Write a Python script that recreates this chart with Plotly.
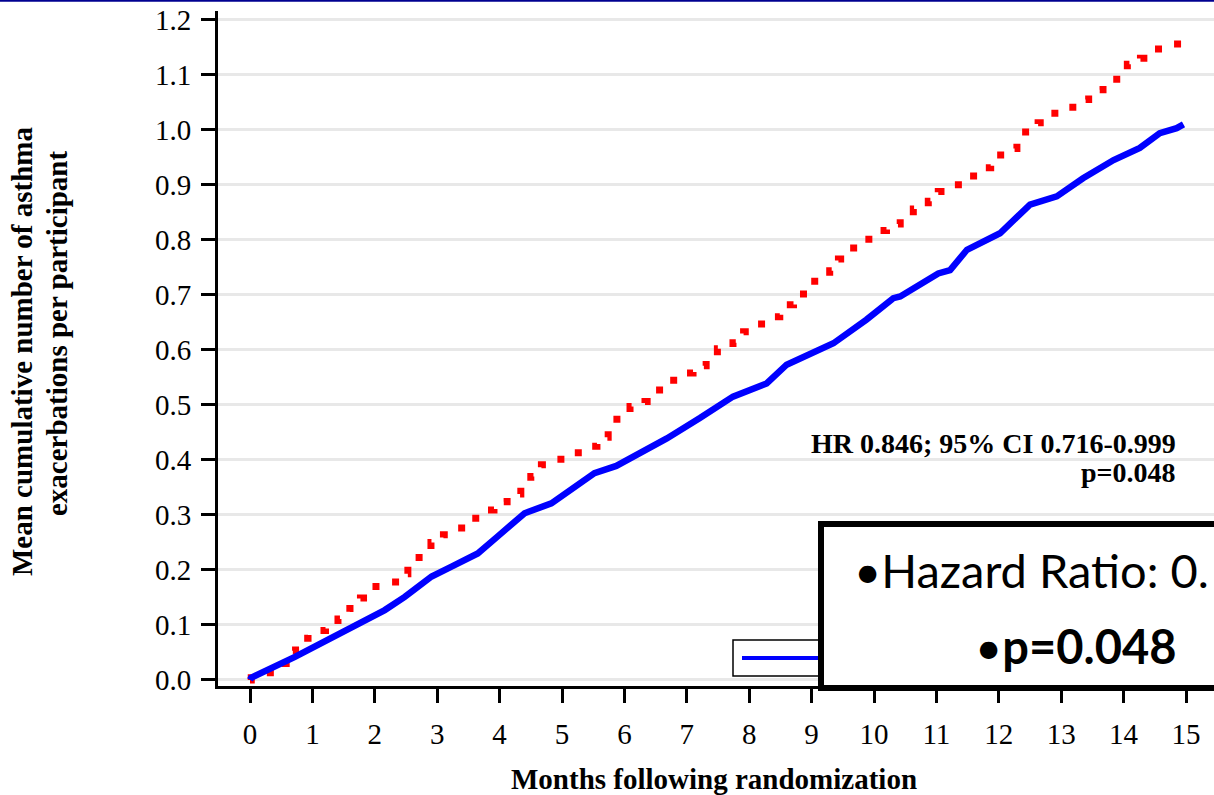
import plotly.graph_objects as go

# ---- data ----
blue_months = [0.0, 0.02, 0.72, 1.04, 1.46, 1.84, 2.16, 2.48, 2.91, 3.23, 3.65, 3.97, 4.40, 4.83,
               5.20, 5.52, 5.87, 6.14, 6.68, 7.21, 7.74, 8.28, 8.60, 9.35, 9.88, 10.31, 10.42,
               11.03, 11.22, 11.49, 12.02, 12.50, 12.93, 13.35, 13.84, 14.26, 14.58, 14.85, 14.96]
blue_values = [0.0, 0.004, 0.042, 0.061, 0.085, 0.109, 0.127, 0.151, 0.188, 0.206, 0.230, 0.261,
               0.303, 0.321, 0.351, 0.376, 0.389, 0.406, 0.439, 0.476, 0.515, 0.539, 0.573, 0.612,
               0.655, 0.694, 0.697, 0.739, 0.745, 0.782, 0.812, 0.864, 0.879, 0.912, 0.945, 0.967,
               0.994, 1.003, 1.010]

red_months = [0.0, 0.02, 0.23, 0.45, 0.58, 0.73, 0.93, 1.21, 1.41, 1.60, 1.77, 1.90, 2.16, 2.40,
              2.53, 2.71, 2.90, 3.10, 3.33, 3.51, 3.71, 3.91, 4.12, 4.34, 4.50, 4.67, 4.90, 5.13,
              5.36, 5.56, 5.74, 5.88, 6.09, 6.33, 6.49, 6.68, 6.89, 7.10, 7.31, 7.49, 7.74, 7.91,
              8.12, 8.36, 8.49, 8.71, 8.87, 9.05, 9.29, 9.43, 9.60, 9.79, 9.98, 10.20, 10.42,
              10.63, 10.87, 11.03, 11.27, 11.49, 11.67, 11.87, 12.03, 12.29, 12.43, 12.63, 12.80,
              13.04, 13.28, 13.44, 13.67, 13.89, 14.06, 14.27, 14.50, 14.73, 14.96]
red_values = [0.0, 0.004, 0.013, 0.030, 0.053, 0.076, 0.090, 0.094, 0.111, 0.130, 0.149, 0.170,
              0.178, 0.193, 0.213, 0.230, 0.250, 0.264, 0.276, 0.294, 0.309, 0.324, 0.338, 0.351,
              0.370, 0.391, 0.401, 0.413, 0.425, 0.441, 0.461, 0.485, 0.497, 0.506, 0.527, 0.545,
              0.558, 0.571, 0.588, 0.602, 0.613, 0.633, 0.647, 0.660, 0.682, 0.694, 0.714, 0.733,
              0.744, 0.765, 0.785, 0.801, 0.817, 0.829, 0.844, 0.856, 0.870, 0.888, 0.900, 0.916,
              0.931, 0.947, 0.966, 0.976, 0.996, 1.013, 1.030, 1.041, 1.055, 1.073, 1.084, 1.100,
              1.119, 1.130, 1.147, 1.156, 1.167]

x_ticks = list(range(0, 16))
y_ticks = [round(0.1 * i, 1) for i in range(0, 13)]

x_title = "Months following randomization"
y_title_1 = "Mean cumulative number of asthma"
y_title_2 = "exacerbations per participant"
hr_text = "HR 0.846; 95% CI 0.716-0.999"
p_text = "p=0.048"
box_line_1 = "•Hazard Ratio: 0."
box_line_2 = "•<b>p=0.048</b>"

# ---- layout geometry (pixels) ----
W, H = 1214, 795
L, R, T, B = 218, 0, 11, 109
PW, PH = W - L - R, H - T - B


def px(xp):  # pixel x -> paper
    return (xp - L) / PW


def py(yp):  # pixel y -> paper
    return (H - B - yp) / PH


serif = "Liberation Serif"
fig = go.Figure()

fig.add_trace(go.Scatter(
    x=red_months, y=red_values, mode="lines", line_shape="hv",
    line=dict(color="#ff0000", width=7, dash="7px,17px"),
    showlegend=False, hoverinfo="skip"))
fig.add_trace(go.Scatter(
    x=blue_months, y=blue_values, mode="lines",
    line=dict(color="#0000ff", width=6.5),
    showlegend=False, hoverinfo="skip"))

shapes = [
    # dark blue rule at top of page
    dict(type="line", xref="paper", yref="paper", x0=px(0), x1=px(W), y0=py(0.8), y1=py(0.8),
         line=dict(color="#000090", width=2), layer="above"),
    # partial legend box
    dict(type="rect", xref="paper", yref="paper", x0=px(733), x1=px(830), y0=py(676), y1=py(640),
         line=dict(color="black", width=1.5), fillcolor="white", layer="above"),
    dict(type="line", xref="paper", yref="paper", x0=px(742), x1=px(830), y0=py(658), y1=py(658),
         line=dict(color="#0000ff", width=4), layer="above"),
    # overlay text box
    dict(type="rect", xref="paper", yref="paper", x0=px(821), x1=px(1230), y0=py(688), y1=py(524),
         line=dict(color="black", width=6), fillcolor="white", layer="above"),
]

annotations = [
    dict(text=f"<b>{y_title_1}</b>", xref="paper", yref="paper", x=px(22), y=py(352),
         textangle=-90, showarrow=False, font=dict(family=serif, size=29, color="black"),
         xanchor="center", yanchor="middle"),
    dict(text=f"<b>{y_title_2}</b>", xref="paper", yref="paper", x=px(57), y=py(334),
         textangle=-90, showarrow=False, font=dict(family=serif, size=29, color="black"),
         xanchor="center", yanchor="middle"),
    dict(text=f"<b>{x_title}</b>", xref="paper", yref="paper", x=px(714), y=py(779),
         showarrow=False, font=dict(family=serif, size=29, color="black"),
         xanchor="center", yanchor="middle"),
    dict(text=f"<b>{hr_text}</b>", xref="paper", yref="paper", x=px(1178), y=py(443),
         showarrow=False, font=dict(family=serif, size=28, color="black"),
         xanchor="right", yanchor="middle"),
    dict(text=f"<b>{p_text}</b>", xref="paper", yref="paper", x=px(1178), y=py(472),
         showarrow=False, font=dict(family=serif, size=28, color="black"),
         xanchor="right", yanchor="middle"),
    dict(text=box_line_1, xref="paper", yref="paper", x=px(852), y=py(570),
         showarrow=False, font=dict(family="Lato", size=47, color="black"),
         xanchor="left", yanchor="middle"),
    dict(text=box_line_2, xref="paper", yref="paper", x=px(973), y=py(646),
         showarrow=False, font=dict(family="Lato", size=47, color="black"),
         xanchor="left", yanchor="middle"),
]

x0_data = (L - 250) / 62.4
x1_data = (W - 250) / 62.4

fig.update_layout(
    width=W, height=H,
    margin=dict(l=L, r=R, t=T, b=B, pad=0),
    paper_bgcolor="white", plot_bgcolor="white",
    shapes=shapes, annotations=annotations,
    showlegend=False,
    xaxis=dict(range=[x0_data, x1_data], tickvals=x_ticks, ticktext=[str(v) for v in x_ticks],
               showgrid=False, zeroline=False, showline=True, linecolor="black", linewidth=3,
               ticks="outside", ticklen=14, tickwidth=2.5, tickcolor="black",
               tickfont=dict(family=serif, size=29, color="black"), ticklabelstandoff=6),
    yaxis=dict(range=[-0.011, 1.216], tickvals=y_ticks, ticktext=[f"{v:.1f}" for v in y_ticks],
               showgrid=True, gridcolor="#e8e8e8", gridwidth=2.5, zeroline=False,
               showline=True, linecolor="black", linewidth=3,
               ticks="outside", ticklen=14, tickwidth=2.5, tickcolor="black",
               tickfont=dict(family=serif, size=29, color="black"), ticklabelstandoff=4),
)

fig.write_html("out.html")
